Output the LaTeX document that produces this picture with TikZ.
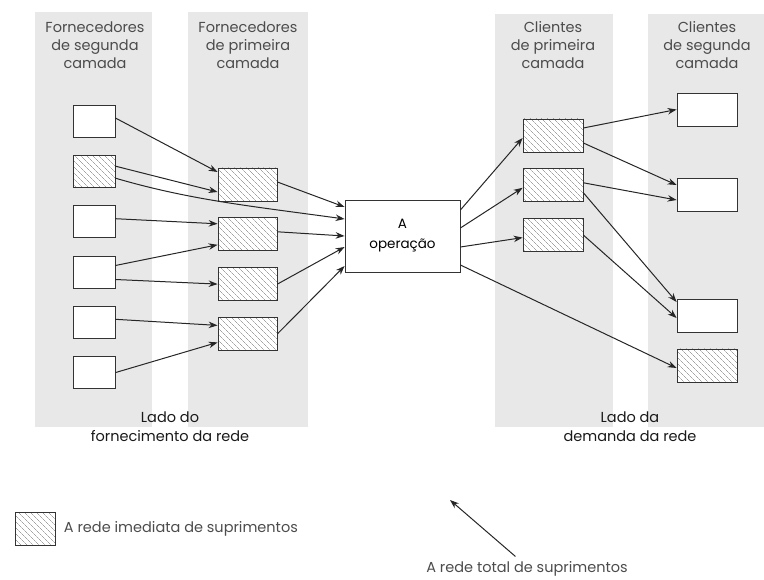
\documentclass[tikz,border=0pt]{standalone}
\usepackage{fontspec}
\setmainfont{Poppins}
\usetikzlibrary{positioning,patterns.meta,arrows.meta}

\tikzset{
  band/.style={fill=black!9},
  plain/.style={draw=black!80, fill=white, line width=0.8pt,
    minimum width=42pt, minimum height=32pt, inner sep=0pt},
  hatched/.style={plain, preaction={fill=white},
    pattern={Lines[angle=-45,distance=4pt,line width=0.4pt]}, pattern color=black!55},
  head/.style={align=center, text=black!70, font=\fontsize{14.5}{18}\selectfont},
  side/.style={align=center, text=black!90, font=\fontsize{14.5}{19}\selectfont},
  arr/.style={draw=black!85, line width=1pt, -{Stealth[length=9pt,width=6.5pt]}}
}

\begin{document}
\begin{tikzpicture}[x=1pt,y=-1pt]
  \useasboundingbox (0,0) rectangle (764,580);

  % Bands
  \fill[band] (35,12) rectangle (152,427);
  \fill[band] (188,12) rectangle (308,427);
  \fill[band] (495,14) rectangle (613,427);
  \fill[band] (648,14) rectangle (764,427);

  % Define nodes
  \node[head] (h1) at (95,45)  {Fornecedores\\de segunda\\camada};
  \node[head] (h2) at (248,45) {Fornecedores\\de primeira\\camada};
  \node[head] (h3) at (553,45) {Clientes\\de primeira\\camada};
  \node[head] (h4) at (707,45) {Clientes\\de segunda\\camada};

  \node[plain]                     (s1) at (94,121.5) {};
  \node[hatched, below=17.5pt of s1] (s2) {};
  \node[plain,   below=17.5pt of s2] (s3) {};
  \node[plain,   below=17.5pt of s3] (s4) {};
  \node[plain,   below=17.5pt of s4] (s5) {};
  \node[plain,   below=17.5pt of s5] (s6) {};

  \node[hatched, minimum width=59pt, minimum height=33pt] (f1) at (247.5,184.5) {};
  \node[hatched, minimum width=59pt, minimum height=33pt, below=16pt of f1] (f2) {};
  \node[hatched, minimum width=59pt, minimum height=33pt, below=16pt of f2] (f3) {};
  \node[hatched, minimum width=59pt, minimum height=33pt, below=16pt of f3] (f4) {};

  \node[plain, minimum width=115pt, minimum height=72pt, align=center,
        font=\fontsize{13.5}{20}\selectfont] (op) at (402.5,236) {A\\operação};

  \node[hatched, minimum width=60pt, minimum height=33pt] (c1) at (553,135.5) {};
  \node[hatched, minimum width=60pt, minimum height=33pt, below=16pt of c1] (c2) {};
  \node[hatched, minimum width=60pt, minimum height=33pt, below=16pt of c2] (c3) {};

  \node[plain,   minimum width=60pt, minimum height=33pt] (d1) at (707,109.5) {};
  \node[plain,   minimum width=60pt, minimum height=33pt] (d2) at (707,195) {};
  \node[plain,   minimum width=60pt, minimum height=33pt] (d3) at (707,315.5) {};
  \node[hatched, minimum width=60pt, minimum height=33pt] (d4) at (707,365.5) {};

  \node[side] (ls) at (170,427) {Lado do\\fornecimento da rede};
  \node[side] (ld) at (630,427) {Lado da\\demanda da rede};

  \node[hatched, minimum width=40pt, minimum height=33pt] (leg) at (35,529) {};
  \node[head, right=5pt of leg] (legt) {A rede imediata de suprimentos};

  \node[head, inner sep=1pt] (tot) at (527,569) {A rede total de suprimentos};
  \coordinate (tip) at (450,500);

  % Connect the nodes
  \draw[arr] ([yshift=3.5pt]s1.east) -- ([yshift=12.5pt]f1.west);
  \draw[arr] ([yshift=5.5pt]s2.east) -- ([yshift=-7.5pt]f1.west);
  \draw[arr] ([yshift=-6.5pt]s2.east) .. controls (190,200) and (250,206) .. ([yshift=17pt]op.west);
  \draw[arr] ([yshift=3pt]s3.east) -- ([yshift=10.5pt]f2.west);
  \draw[arr] ([yshift=6.5pt]s4.east) -- ([yshift=-10.5pt]f2.west);
  \draw[arr] ([yshift=-7.5pt]s4.east) -- (f3.west);
  \draw[arr] ([yshift=3pt]s5.east) -- ([yshift=8.5pt]f4.west);
  \draw[arr] (s6.east) -- ([yshift=-8.5pt]f4.west);

  \draw[arr] ([yshift=2.5pt]f1.east) -- ([yshift=29pt]op.west);
  \draw[arr] ([yshift=2.5pt]f2.east) -- (op.west);
  \draw[arr] (f3.east) -- ([yshift=-11pt]op.west);
  \draw[arr] (f4.east) -- ([yshift=-30pt]op.west);

  \draw[arr] ([yshift=26pt]op.east) -- ([yshift=-2.5pt]c1.west);
  \draw[arr] ([yshift=8pt]op.east) -- ([yshift=-2.5pt]c2.west);
  \draw[arr] ([yshift=-11pt]op.east) -- ([yshift=-2.5pt]c3.west);
  \draw[arr] ([yshift=-29pt]op.east) -- ([yshift=-2.5pt]d4.west);

  \draw[arr] ([yshift=7.5pt]c1.east) -- (d1.west);
  \draw[arr] ([yshift=-7.5pt]c1.east) -- ([yshift=10pt]d2.west);
  \draw[arr] ([yshift=2.5pt]c2.east) -- ([yshift=-5pt]d2.west);
  \draw[arr] ([yshift=-7.5pt]c2.east) -- ([yshift=13.5pt]d3.west);
  \draw[arr] (c3.east) -- ([yshift=-2.5pt]d3.west);

  \draw[arr, shorten <=6pt] ([xshift=-7pt]tot.north) -- (tip);
\end{tikzpicture}
\end{document}
